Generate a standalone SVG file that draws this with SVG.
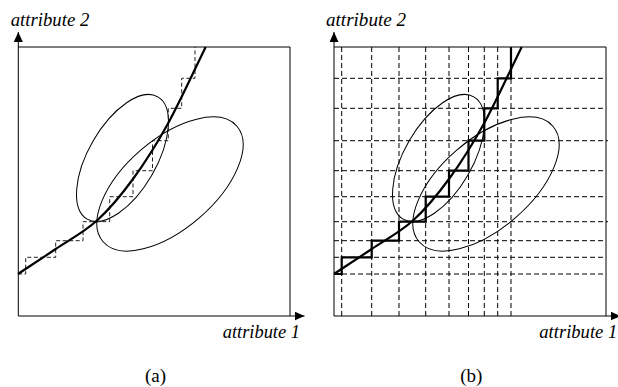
<svg xmlns="http://www.w3.org/2000/svg" xmlns:xlink="http://www.w3.org/1999/xlink" width="618" height="387" viewBox="0 0 618 387">
<style>
.lbl{font-family:"Liberation Serif","Times New Roman",serif;font-style:italic;font-size:18.5px;fill:#000}
.cap{font-family:"Liberation Serif","Times New Roman",serif;font-size:19px;fill:#000;text-anchor:middle}
.box{fill:none;stroke:#000;stroke-width:1}
.ell{fill:none;stroke:#000;stroke-width:1}
.curve{fill:none;stroke:#000;stroke-width:2.2}
.grid{fill:none;stroke:#000;stroke-width:1;stroke-dasharray:5 3}
.stairD{fill:none;stroke:#222;stroke-width:1;stroke-dasharray:4 2.5}
.stairS{fill:none;stroke:#000;stroke-width:2.2}
</style>
<defs>
<marker id="ah" viewBox="0 0 10 9" refX="10" refY="4.5" markerWidth="10" markerHeight="9" markerUnits="userSpaceOnUse" orient="auto">
<path d="M0,0 L10,4.5 L0,9 z" fill="#000"/>
</marker>
<path id="crv" d="M334,274 C346.5,265.7 358.5,257.9 371.7,249 C384.9,240.1 400.1,232.2 413,220.5 C425.9,208.8 437.1,195.3 449,179 C460.9,162.8 472.2,145 484.3,123 C496.4,101 509.2,72.3 521.7,47"/>
<path id="stair" d="M334,274 H341.7 V257.3 H371.7 V240.7 H399 V221.7 H425.7 V196.7 H449 V170.7 H468.5 V140.7 H484.3 V108.3 H497.7 V78.3 H511 V47"/>
<ellipse id="e1" cx="438.5" cy="158" rx="70.6" ry="34" transform="rotate(-60 438.5 158)"/>
<ellipse id="e2" cx="486" cy="184" rx="88.4" ry="44.8" transform="rotate(-40.8 486 184)"/>
</defs>

<g id="panel-a">
<g id="frame-a">
<polyline class="box" points="18.3,47 290,47 290,316"/>
<line class="box" x1="18.3" y1="316" x2="18.3" y2="32" marker-end="url(#ah)"/>
<line class="box" x1="18.3" y1="316" x2="304.5" y2="316" marker-end="url(#ah)"/>
</g>
<g id="shapes-a" transform="translate(-316 0)">
<use xlink:href="#e1" class="ell"/>
<use xlink:href="#e2" class="ell"/>
<use xlink:href="#stair" class="stairD"/>
<use xlink:href="#crv" class="curve"/>
</g>
<text class="lbl" x="10.7" y="26" textLength="78.6" lengthAdjust="spacingAndGlyphs">attribute 2</text>
<text class="lbl" x="222.7" y="338" textLength="77.3" lengthAdjust="spacingAndGlyphs">attribute 1</text>
<text class="cap" x="155.5" y="382">(a)</text>
</g>

<g id="panel-b">
<g id="grid-b">
<path class="grid" d="M341.7,47V316 M371.7,47V316 M399,47V316 M425.7,47V316 M449,47V316 M468.5,47V316 M484.3,47V316 M497.7,47V316 M511,47V316"/>
<path class="grid" d="M334,78.3H606 M334,108.3H606 M334,140.7H608 M334,170.7H606 M334,196.7H606 M334,221.7H608 M334,240.7H606 M334,257.3H606 M334,274H606"/>
</g>
<g id="frame-b">
<polyline class="box" points="334,47 606,47 606,316"/>
<line class="box" x1="334" y1="316" x2="334" y2="32" marker-end="url(#ah)"/>
<line class="box" x1="334" y1="316" x2="620.5" y2="316" marker-end="url(#ah)"/>
</g>
<g id="shapes-b">
<use xlink:href="#e1" class="ell"/>
<use xlink:href="#e2" class="ell"/>
<use xlink:href="#stair" class="stairS"/>
<use xlink:href="#crv" class="curve"/>
</g>
<text class="lbl" x="326" y="26" textLength="80" lengthAdjust="spacingAndGlyphs">attribute 2</text>
<text class="lbl" x="539.3" y="338" textLength="78" lengthAdjust="spacingAndGlyphs">attribute 1</text>
<text class="cap" x="471.3" y="382">(b)</text>
</g>
</svg>
